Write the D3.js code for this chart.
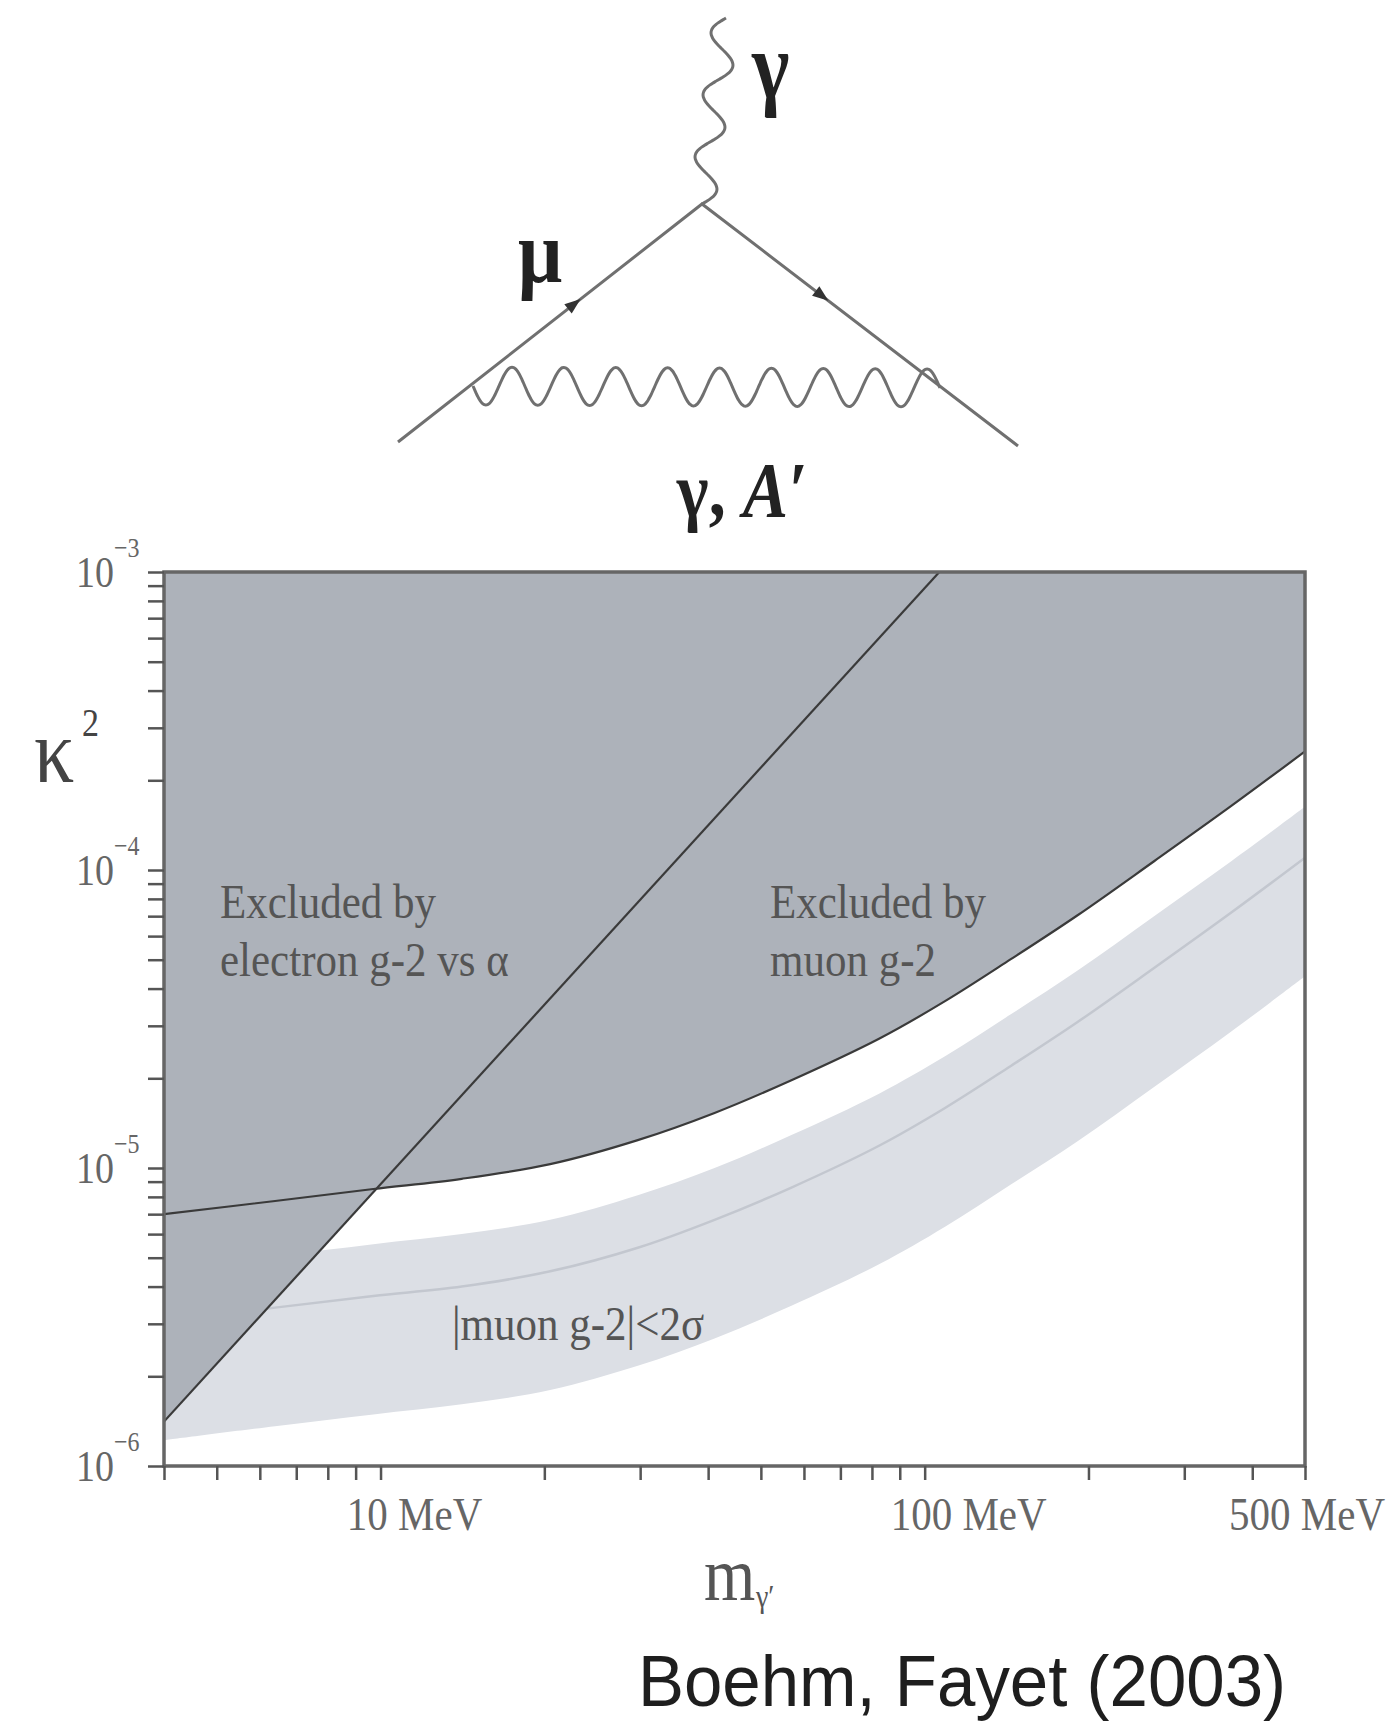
<!DOCTYPE html>
<html>
<head>
<meta charset="utf-8">
<title>Boehm, Fayet (2003) - muon g-2 bounds</title>
<script src="https://d3js.org/d3.v7.min.js"></script>
<style>
  body { margin: 0; background: #fff; }
  svg { display: block; }
</style>
</head>
<body>
<div id="chart"></div>
<script>
// values: boson mass (MeV) and kappa^2
const massMeV       = [4, 6.4, 9.7, 14.1, 20.5, 29.7, 41.1, 56.9, 82.6, 109, 144, 191, 264, 366, 500];
const muonExclusion = [7.0e-6, 7.75e-6, 8.5e-6, 9.2e-6, 1.03e-5, 1.24e-5, 1.53e-5, 1.97e-5, 2.72e-5, 3.63e-5, 5.02e-5, 7.05e-5, 1.07e-4, 1.64e-4, 2.5e-4];
const bandUpper     = [4.57e-6, 5.06e-6, 5.55e-6, 6.0e-6, 6.7e-6, 8.1e-6, 1.0e-5, 1.29e-5, 1.78e-5, 2.37e-5, 3.28e-5, 4.6e-5, 7.0e-5, 1.07e-4, 1.63e-4];
const bandCentral   = [3.07e-6, 3.4e-6, 3.72e-6, 4.0e-6, 4.5e-6, 5.4e-6, 6.7e-6, 8.6e-6, 1.19e-5, 1.59e-5, 2.2e-5, 3.09e-5, 4.69e-5, 7.2e-5, 1.1e-4];
const bandLower     = [1.22e-6, 1.36e-6, 1.49e-6, 1.61e-6, 1.8e-6, 2.17e-6, 2.68e-6, 3.45e-6, 4.76e-6, 6.35e-6, 8.8e-6, 1.23e-5, 1.87e-5, 2.87e-5, 4.4e-5];

// electron g-2 vs alpha: straight line in log-log
const electronMass  = [4, 108];
const electronBound = [1.41e-6, 1.03e-3];

const xTickValues = [10, 100, 500];
const xTickLabels = ["10 MeV", "100 MeV", "500 MeV"];
const yTickExponents = [-3, -4, -5, -6];

const width = 1400, height = 1725;
const svg = d3.select("#chart").append("svg")
    .attr("width", width)
    .attr("height", height);

const plot = { left: 164, right: 1305, top: 572, bottom: 1466 };

const x = d3.scaleLog().domain([4, 500]).range([plot.left, plot.right]);
const y = d3.scaleLog().domain([1e-6, 1e-3]).range([plot.bottom, plot.top]);

const serif = "'Liberation Serif', 'DejaVu Serif', serif";
const textStretch = 1.15;
const smooth = d3.curveCatmullRom.alpha(0.5);

svg.append("clipPath").attr("id", "plot-clip")
    .append("rect")
    .attr("x", plot.left).attr("y", plot.top)
    .attr("width", plot.right - plot.left)
    .attr("height", plot.bottom - plot.top);

const idx = d3.range(massMeV.length);
const gPlot = svg.append("g").attr("clip-path", "url(#plot-clip)");

// |muon g-2| < 2 sigma band
gPlot.append("path")
    .attr("d", d3.area()
        .x(i => x(massMeV[i]))
        .y0(i => y(bandLower[i]))
        .y1(i => y(bandUpper[i]))
        .curve(smooth)(idx))
    .attr("fill", "#dcdfe5");

gPlot.append("path")
    .attr("d", d3.line()
        .x(i => x(massMeV[i]))
        .y(i => y(bandCentral[i]))
        .curve(smooth)(idx))
    .attr("fill", "none")
    .attr("stroke", "#c3c7cf")
    .attr("stroke-width", 2.5);

// excluded regions
const darkFill = "#adb2ba";
const yTop = y(y.domain()[1]);

gPlot.append("path")
    .attr("d", d3.area()
        .x(i => x(massMeV[i]))
        .y0(yTop)
        .y1(i => y(muonExclusion[i]))
        .curve(smooth)(idx))
    .attr("fill", darkFill);

const eIdx = d3.range(electronMass.length);
gPlot.append("path")
    .attr("d", d3.area()
        .x(i => x(electronMass[i]))
        .y0(yTop)
        .y1(i => y(electronBound[i]))(eIdx))
    .attr("fill", darkFill);

// boundary lines
gPlot.append("path")
    .attr("d", d3.line()
        .x(i => x(massMeV[i]))
        .y(i => y(muonExclusion[i]))
        .curve(smooth)(idx))
    .attr("fill", "none")
    .attr("stroke", "#3a3a3a")
    .attr("stroke-width", 2.2);

gPlot.append("path")
    .attr("d", d3.line()
        .x(i => x(electronMass[i]))
        .y(i => y(electronBound[i]))(eIdx))
    .attr("fill", "none")
    .attr("stroke", "#3a3a3a")
    .attr("stroke-width", 2.2);

// frame
svg.append("rect")
    .attr("x", plot.left).attr("y", plot.top)
    .attr("width", plot.right - plot.left)
    .attr("height", plot.bottom - plot.top)
    .attr("fill", "none")
    .attr("stroke", "#666")
    .attr("stroke-width", 3.5);

// axes (ticks only)
const xAxis = svg.append("g")
    .attr("transform", `translate(0,${plot.bottom})`)
    .call(d3.axisBottom(x).tickValues(x.ticks()).tickFormat("").tickSize(14));
const yAxis = svg.append("g")
    .attr("transform", `translate(${plot.left},0)`)
    .call(d3.axisLeft(y).tickValues(y.ticks()).tickFormat("").tickSize(16));
[xAxis, yAxis].forEach(a => {
    a.select(".domain").remove();
    a.selectAll(".tick line").attr("stroke", "#555").attr("stroke-width", 2.5);
});

// x tick labels
const xLabelShift = [34, 44, 2];
xTickValues.forEach((v, i) => {
    svg.append("text")
        .attr("transform", `translate(${x(v) + xLabelShift[i]},1530) scale(1,${textStretch})`)
        .attr("text-anchor", "middle")
        .attr("font-family", serif)
        .attr("font-size", 41)
        .attr("fill", "#666")
        .text(xTickLabels[i]);
});

// y tick labels 10^n
yTickExponents.forEach(e => {
    const g = svg.append("g")
        .attr("transform", `translate(114,${y(Math.pow(10, e)) + 15}) scale(1,${textStretch})`)
        .attr("font-family", serif)
        .attr("fill", "#666");
    g.append("text").attr("text-anchor", "end").attr("font-size", 38).text("10");
    g.append("text").attr("x", 0).attr("y", -26).attr("font-size", 24).text("\u2212" + (-e));
});

// axis titles
const kappa = svg.append("g")
    .attr("transform", `translate(34,782) scale(1,${textStretch})`)
    .attr("font-family", serif).attr("fill", "#444");
kappa.append("text").attr("font-size", 80).text("\u03ba");
kappa.append("text").attr("x", 48).attr("y", -40).attr("font-size", 34).text("2");

const mTitle = svg.append("g")
    .attr("transform", `translate(704,1600) scale(1,${textStretch})`)
    .attr("font-family", serif).attr("fill", "#555");
mTitle.append("text").attr("font-size", 66).text("m");
mTitle.append("text").attr("x", 52).attr("y", 6).attr("font-size", 28).text("\u03b3\u2032");

// annotations
function note(lines, x0, y0, lineGap) {
    lines.forEach((t, i) => {
        svg.append("text")
            .attr("transform", `translate(${x0},${y0 + i * lineGap}) scale(1,${textStretch})`)
            .attr("font-family", serif)
            .attr("font-size", 43)
            .attr("fill", "#555")
            .text(t);
    });
}
note(["Excluded by", "electron g-2 vs \u03b1"], 220, 918, 58);
note(["Excluded by", "muon g-2"], 770, 918, 58);
note(["|muon g-2|<2\u03c3"], 452, 1340, 0);

// attribution
svg.append("text")
    .attr("transform", `translate(1286,1706) scale(1,1.05)`)
    .attr("text-anchor", "end")
    .attr("font-family", "'Liberation Sans', Arial, sans-serif")
    .attr("font-size", 69)
    .attr("fill", "#1e1e1e")
    .text("Boehm, Fayet (2003)");

// Feynman diagram above the chart
const diag = {
    vertex: [702, 204],
    left: [398, 442],
    right: [1018, 446],
    photonTop: [726, 18],
    loopStart: [473, 386],
    loopEnd: [940, 388]
};
const lineColor = "#707070";

function wavy(p0, p1, periods, amp) {
    const dx = p1[0] - p0[0], dy = p1[1] - p0[1];
    const len = Math.hypot(dx, dy);
    const nx = -dy / len, ny = dx / len;
    const pts = d3.range(0, periods * 32 + 1).map(k => {
        const t = k / (periods * 32);
        const o = amp * Math.sin(2 * Math.PI * periods * t);
        return [p0[0] + dx * t + nx * o, p0[1] + dy * t + ny * o];
    });
    return d3.line().curve(d3.curveCatmullRom)(pts);
}

const gD = svg.append("g")
    .attr("fill", "none")
    .attr("stroke", lineColor)
    .attr("stroke-width", 3);

gD.append("path").attr("d", d3.line()([diag.left, diag.vertex, diag.right]));
gD.append("path").attr("d", wavy(diag.vertex, diag.photonTop, 3, 13));
gD.append("path").attr("d", wavy(diag.loopStart, diag.loopEnd, 9, 19));

function arrowOn(p0, p1, t) {
    const px = p0[0] + (p1[0] - p0[0]) * t, py = p0[1] + (p1[1] - p0[1]) * t;
    const ang = Math.atan2(p1[1] - p0[1], p1[0] - p0[0]) * 180 / Math.PI;
    svg.append("path")
        .attr("d", "M8,0 L-8,-6 L-8,6 Z")
        .attr("transform", `translate(${px},${py}) rotate(${ang})`)
        .attr("fill", "#333");
}
arrowOn(diag.left, diag.vertex, 0.58);
arrowOn(diag.vertex, diag.right, 0.38);

const labelFont = "'Liberation Serif', 'DejaVu Serif', serif";
svg.append("text")
    .attr("transform", `translate(752,98) scale(1,1.2)`)
    .attr("font-family", labelFont).attr("font-weight", "bold")
    .attr("font-size", 80).attr("fill", "#222")
    .text("\u03b3");
svg.append("text")
    .attr("transform", `translate(518,282) scale(1,1.15)`)
    .attr("font-family", labelFont).attr("font-weight", "bold")
    .attr("font-size", 78).attr("fill", "#222")
    .text("\u03bc");
const bosonLabel = svg.append("text")
    .attr("transform", `translate(742,516) scale(1,1.15)`)
    .attr("text-anchor", "middle")
    .attr("font-family", labelFont).attr("font-weight", "bold")
    .attr("font-size", 68).attr("fill", "#222");
bosonLabel.append("tspan").text("\u03b3, ");
bosonLabel.append("tspan").attr("font-style", "italic").text("A\u2032");
</script>
</body>
</html>
